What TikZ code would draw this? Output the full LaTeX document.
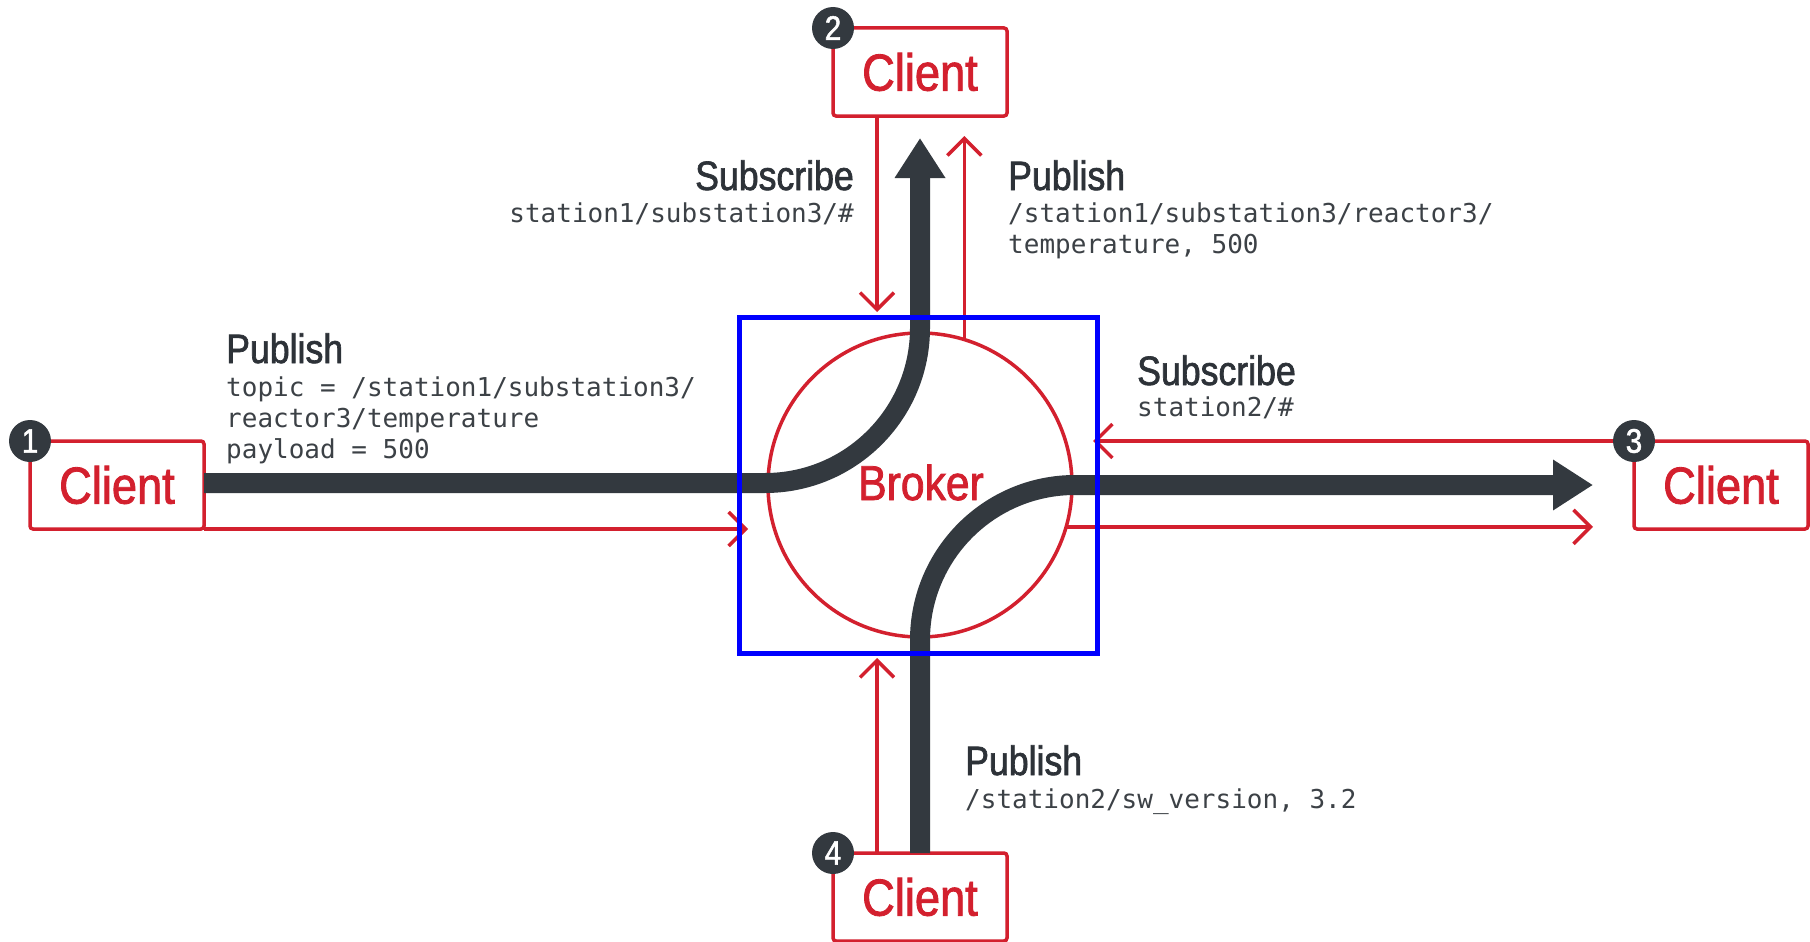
\documentclass[tikz,border=0pt]{standalone}
\usepackage{fontspec}
\usetikzlibrary{arrows.meta,calc}
\newfontfamily\headfont[FakeStretch=0.87,FakeBold=1.6]{Liberation Sans}
\newfontfamily\monofont{DejaVu Sans Mono}
\definecolor{cred}{RGB}{211,32,46}
\definecolor{cpipe}{RGB}{51,57,63}
\definecolor{chead}{RGB}{45,50,56}
\definecolor{cmono}{RGB}{60,65,70}
\begin{document}
\begin{tikzpicture}[x=1pt,y=-1pt,
  client/.style={draw=cred, line width=3.5pt, rounded corners=3pt, minimum width=174pt, minimum height=88pt, inner sep=0pt, outer sep=0pt, font=\headfont\fontsize{52}{52}\selectfont, text=cred},
  badge/.style={circle, fill=cpipe, minimum size=42pt, inner sep=0pt, text=white, font=\headfont\fontsize{34}{34}\selectfont},
  pipe/.style={draw=cpipe, line width=20pt, -{Triangle[length=40pt,width=48pt]}},
  redline/.style={draw=cred, line width=3.5pt, -{Straight Barb[length=17pt,width=34pt]}},
  head/.style={font=\headfont\fontsize{41}{41}\selectfont, text=chead, inner sep=0pt},
  mono/.style={font=\monofont\fontsize{26}{26}\selectfont, text=cmono, inner sep=0pt}]
\useasboundingbox (0,0) rectangle (1810,942);
\fill[white] (0,0) rectangle (1810,942);

% broker circle
\node[draw=cred, line width=3.5pt, circle, minimum size=304pt, inner sep=0pt, outer sep=0pt] (broker) at (920,485) {};

% clients
\node[client] (c1) at (117,485) {Client};
\node[client] (c2) at (920,72) {Client};
\node[client] (c3) at (1721,485) {Client};
\node[client] (c4) at (920,897) {Client};

% free ends
\coordinate (a1) at (748,529);
\coordinate (a2) at (877,312);
\coordinate (a3) at (964,136);
\coordinate (a4) at (1093,441);
\coordinate (a5) at (1593,529);
\coordinate (a6) at (877,658);
\coordinate (pt) at (920,138);
\coordinate (pr) at (1593,485);

% red thin connectors
\draw[redline] (c1.south east) -- (a1);
\draw[redline] (c2.south -| a2) -- (a2);
\draw[redline] (broker.73) -- (broker.73 |- a3);
\draw[redline] (c3.north west) -- (a4);
\draw[redline] (broker.-16.8) -- (broker.-16.8 -| a5);
\draw[redline] (c4.north -| a6) -- (a6);

% dark pipes (quarter circles of radius 155)
\draw[pipe] (c1.east |- 0,483) -- (765,483) .. controls (850.6,483) and (920,413.6) .. (920,328) -- (pt);
\draw[pipe] (c4.north) -- (920,640) .. controls (920,554.4) and (989.4,485) .. (1075,485) -- (pr);

% broker label
\node[text=cred, font=\headfont\fontsize{49}{49}\selectfont, inner sep=0pt, anchor=base] (blabel) at (921,500) {Broker};

% blue box
\node[draw=blue, line width=5pt, minimum width=358pt, minimum height=336pt, inner sep=0pt] (bbox) at (918,485) {};

% badges
\node[badge] (b1) at (c1.north west) {1};
\node[badge] (b2) at (c2.north west) {2};
\node[badge] (b3) at (c3.north west) {3};
\node[badge] (b4) at (c4.north west) {4};

% labels
\node[head, anchor=base west] (l1) at (226,363) {Publish};
\node[mono, anchor=base west] (l1a) at (226,396) {topic = /station1/substation3/};
\node[mono, anchor=base west] (l1b) at (226,427) {reactor3/temperature};
\node[mono, anchor=base west] (l1c) at (226,458) {payload = 500};

\node[head, anchor=base east] (l2) at (854,190) {Subscribe};
\node[mono, anchor=base east] (l2a) at (854,222) {station1/substation3/\#};

\node[head, anchor=base west] (l3) at (1008,190) {Publish};
\node[mono, anchor=base west] (l3a) at (1008,222) {/station1/substation3/reactor3/};
\node[mono, anchor=base west] (l3b) at (1008,253) {temperature, 500};

\node[head, anchor=base west] (l4) at (1137,385) {Subscribe};
\node[mono, anchor=base west] (l4a) at (1137,416) {station2/\#};

\node[head, anchor=base west] (l5) at (965,775) {Publish};
\node[mono, anchor=base west] (l5a) at (965,808) {/station2/sw\_version, 3.2};
\end{tikzpicture}
\end{document}
